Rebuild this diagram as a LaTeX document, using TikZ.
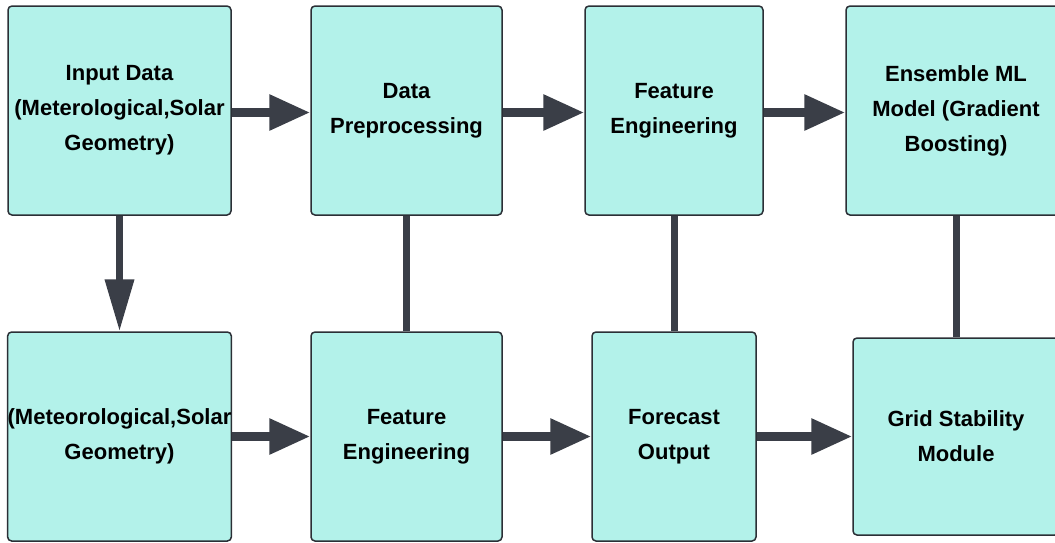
\documentclass[tikz,border=0pt]{standalone}
\usepackage{fontspec}
\setmainfont{Liberation Sans}
\usetikzlibrary{arrows.meta}
\definecolor{boxfill}{HTML}{B3F2EA}
\definecolor{boxedge}{HTML}{2B2F36}
\definecolor{conn}{HTML}{3A3E47}

\begin{document}
\begin{tikzpicture}[x=1pt,y=-1pt,
  stage/.style={draw=boxedge, line width=1.5pt, fill=boxfill, rounded corners=4pt,
    inner sep=0pt, align=center, text=black,
    font=\fontsize{22}{35}\selectfont\bfseries},
  flow/.style={draw=conn, line width=9pt, -{Triangle[length=41pt,width=34pt]}},
  drop/.style={draw=conn, line width=7pt, -{Triangle[length=52pt,width=28pt]}},
  link/.style={draw=conn, line width=7pt}]

\useasboundingbox (0,0) rectangle (1055,542);
\clip (0,0) rectangle (1055,542);

% top row
\node[stage, minimum width=223pt, minimum height=209pt] (b1) at (119.5,110.5)
  {Input Data\\(Meterological,Solar\\Geometry)};
\node[stage, minimum width=191pt, minimum height=209pt] (b2) at (406.5,110.5)
  {Data\\Preprocessing};
\node[stage, minimum width=178pt, minimum height=209pt] (b3) at (674,110.5)
  {Feature\\Engineering};
\node[stage, minimum width=220pt, minimum height=209pt] (b4) at (956,110.5)
  {Ensemble ML\\Model (Gradient\\Boosting)};

% bottom row
\node[stage, minimum width=223pt, minimum height=209pt] (b5) at (119.5,436.5)
  {(Meteorological,Solar\\Geometry)};
\node[stage, minimum width=191pt, minimum height=209pt] (b6) at (406.5,436.5)
  {Feature\\Engineering};
\node[stage, minimum width=164pt, minimum height=209pt] (b7) at (674,436.5)
  {Forecast\\Output};
\node[stage, minimum width=206pt, minimum height=197pt] (b8) at (956,436.5)
  {Grid Stability\\Module};

% horizontal flow, running a little below the box centres
\draw[flow] ([yshift=-2pt]b1.east) -- ([yshift=-2pt]b2.west);
\draw[flow] ([yshift=-2pt]b2.east) -- ([yshift=-2pt]b3.west);
\draw[flow] ([yshift=-2pt]b3.east) -- ([yshift=-2pt]b4.west);
\draw[flow] (b5.east) -- (b6.west);
\draw[flow] (b6.east) -- (b7.west);
\draw[flow] (b7.east) -- (b8.west);

% vertical connectors
\draw[drop] (b1.south) -- (b5.north);
\draw[link] (b2.south) -- (b6.north);
\draw[link] (b3.south) -- (b7.north);
\draw[link] (b4.south) -- (b8.north);
\end{tikzpicture}
\end{document}
